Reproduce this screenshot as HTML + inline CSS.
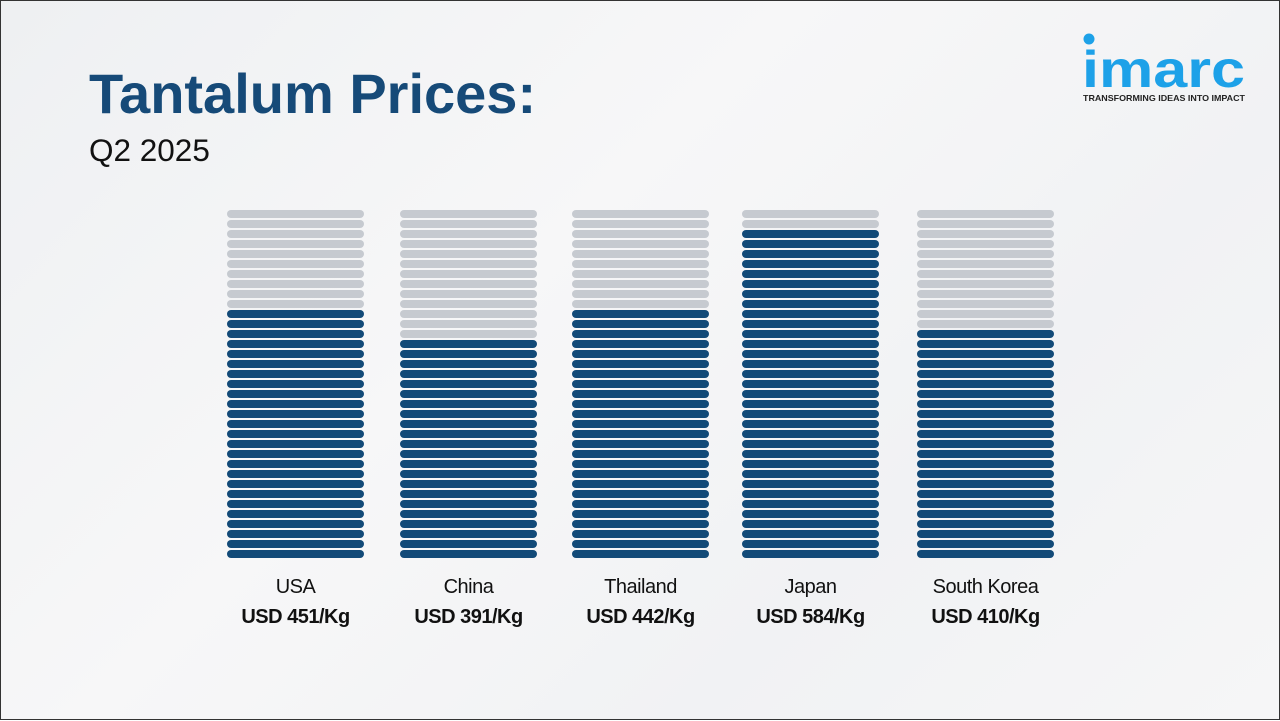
<!DOCTYPE html>
<html><head><meta charset="utf-8"><style>
body{margin:0;width:1280px;height:720px;overflow:hidden;font-family:"Liberation Sans",sans-serif}
#page{position:absolute;left:0;top:0;width:1278px;height:718px;border:1px solid #333;background:linear-gradient(135deg,#eef0f2 0%,#f7f7f8 40%,#f1f2f4 70%,#f6f6f7 100%)}
.title{position:absolute;left:88px;top:60px;font-size:56px;font-weight:bold;color:#164a78}
.sub{position:absolute;left:88px;top:131px;font-size:31.5px;color:#111}
.logo{position:absolute;left:1080px;top:28px}
.cat{position:absolute;width:200px;text-align:center;font-size:20px;color:#111;letter-spacing:-0.5px}
.val{position:absolute;width:200px;text-align:center;font-size:20px;font-weight:bold;color:#111;letter-spacing:-0.5px}
</style></head><body>
<div id="page">
<div class="title">Tantalum Prices:</div>
<div class="sub">Q2 2025</div>
<div class="logo">
<svg width="180" height="80"><circle cx="8" cy="10" r="5.5" fill="#1da1e8"/>
<text x="1" y="58" font-family="Liberation Sans" font-size="52" font-weight="bold" fill="#1da1e8" textLength="163" lengthAdjust="spacingAndGlyphs">imarc</text>
<text x="2" y="72" font-family="Liberation Sans" font-size="8.5" font-weight="bold" fill="#222" textLength="162" lengthAdjust="spacingAndGlyphs">TRANSFORMING IDEAS INTO IMPACT</text></svg></div>
<svg id="chart" width="1280" height="720" style="position:absolute;left:0;top:0"></svg>
</div>
<script>
const categories=["USA","China","Thailand","Japan","South Korea"];
const prices=[451,391,442,584,410];
const priceLabels=["USD 451/Kg","USD 391/Kg","USD 442/Kg","USD 584/Kg","USD 410/Kg"];
const totalStripes=35;
const unit=584/33;
const colLeft=[226,399,571,741,916];
const colW=137, topY=209, pitch=10, sh=8;
const svg=document.getElementById('chart');
const ns="http://www.w3.org/2000/svg";
const page=document.getElementById('page');
categories.forEach((c,i)=>{
  const dark=Math.round(prices[i]/unit);
  const g=document.createElementNS(ns,'g');
  
  
  for(let s=0;s<totalStripes;s++){
    const r=document.createElementNS(ns,'rect');
    r.setAttribute('x',colLeft[i]);r.setAttribute('y',topY+s*pitch);
    r.setAttribute('width',colW);r.setAttribute('height',sh);
    r.setAttribute('rx',4);
    r.setAttribute('fill',(totalStripes-s)<=dark?'#124a78':'#c6cad0');
    g.appendChild(r);
  }
  svg.appendChild(g);
  const cx=colLeft[i]+colW/2;
  const l=document.createElement('div');l.className='cat';
  
  
  l.style.left=(cx-100)+'px';l.style.top='575px';l.textContent=c;page.appendChild(l);
  const v=document.createElement('div');v.className='val';
  
  
  v.style.left=(cx-100)+'px';v.style.top='605px';v.textContent=priceLabels[i];page.appendChild(v);
});
</script>
</body></html>
